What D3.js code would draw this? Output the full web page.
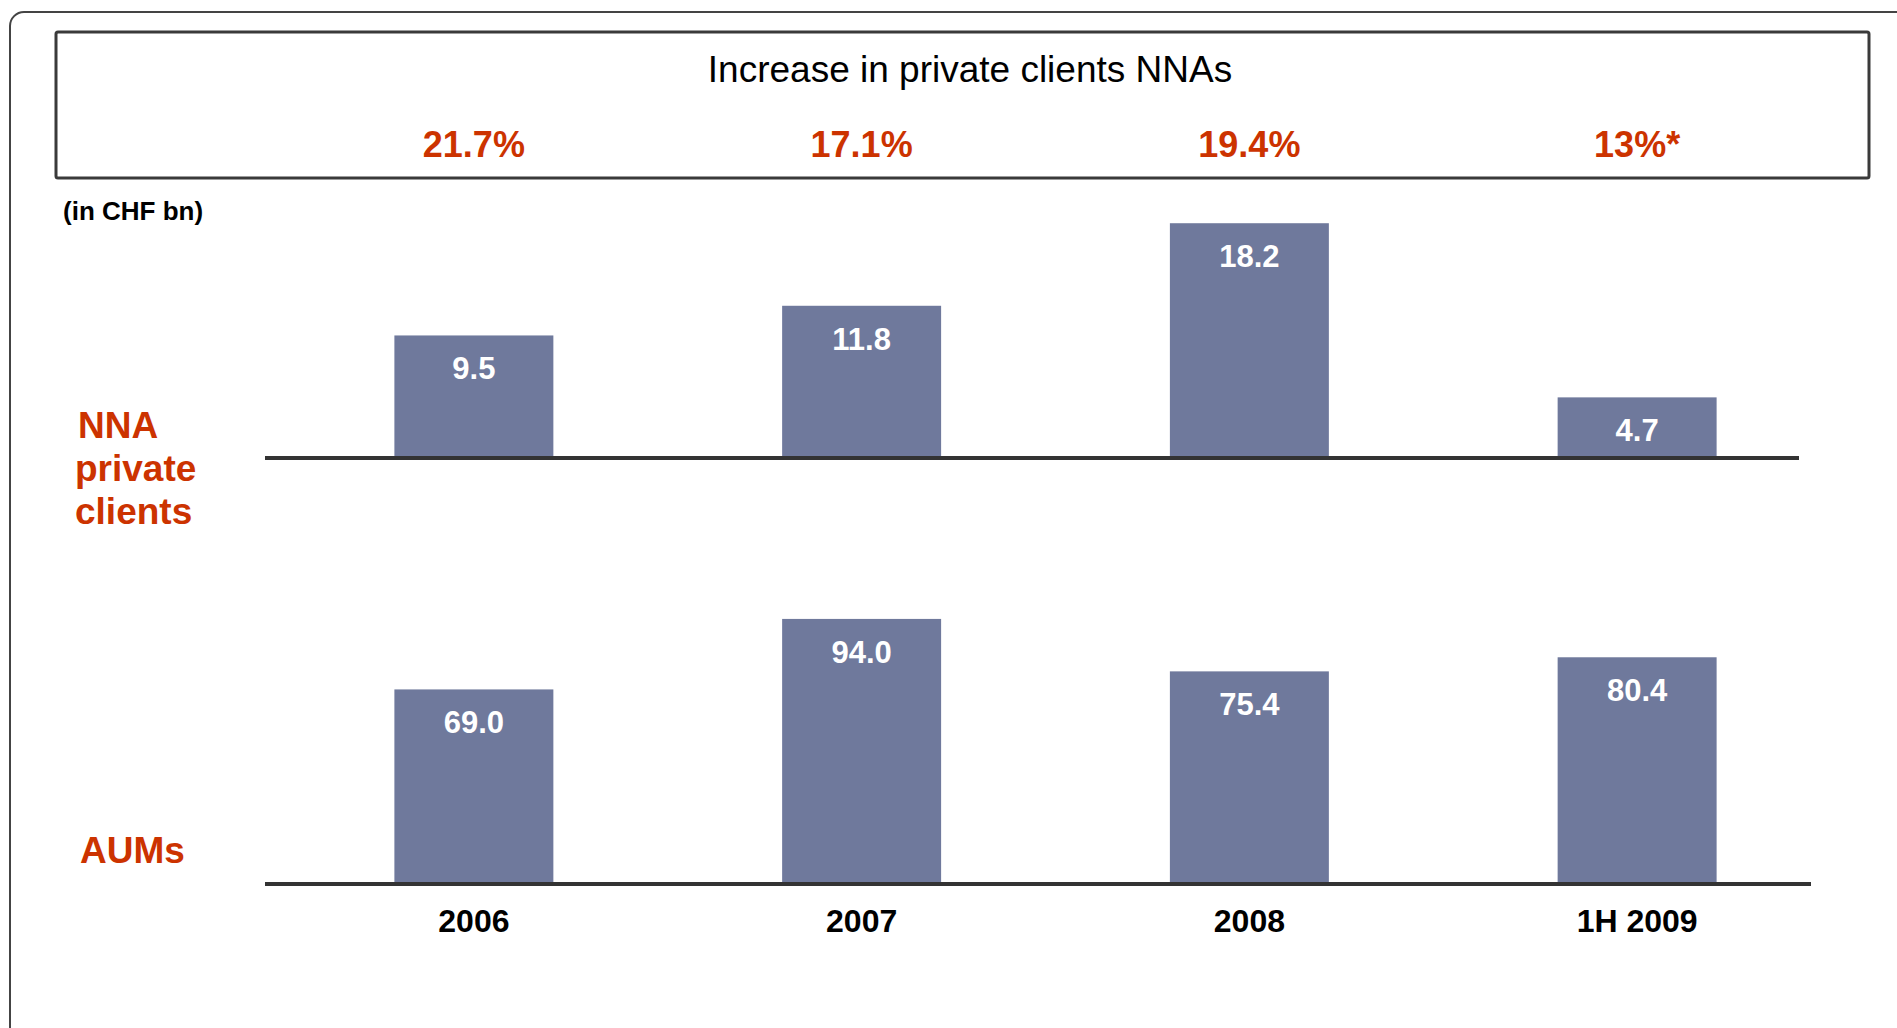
<!DOCTYPE html>
<html>
<head>
<meta charset="utf-8">
<script src="https://cdn.jsdelivr.net/npm/d3@7"></script>
<style>
  body { margin: 0; background: #fff; }
  svg { display: block; font-family: 'Liberation Sans', Arial, sans-serif; }
</style>
</head>
<body>
<div id="chart"></div>
<script>
const categories = ['2006', '2007', '2008', '1H 2009']
const nnaValues = [9.5, 11.8, 18.2, 4.7]
const aumValues = [69.0, 94.0, 75.4, 80.4]
const growthLabels = ['21.7%', '17.1%', '19.4%', '13%*']

const width = 1897
const height = 1028
const red = '#cc3300'
const barColor = '#6f799c'
const lineColor = '#333'

const svg = d3.select('#chart')
  .append('svg')
  .attr('width', width)
  .attr('height', height)

// outer frame, runs off the right and bottom of the page
svg.append('rect')
  .attr('x', 10).attr('y', 12)
  .attr('width', width + 40).attr('height', height + 40)
  .attr('rx', 14)
  .attr('fill', 'none')
  .attr('stroke', '#444')
  .attr('stroke-width', 2)

// header box
svg.append('rect')
  .attr('x', 56).attr('y', 32)
  .attr('width', 1813).attr('height', 146)
  .attr('rx', 2)
  .attr('fill', 'none')
  .attr('stroke', '#3a3a3a')
  .attr('stroke-width', 3)

svg.append('text')
  .attr('x', 970).attr('y', 82)
  .attr('text-anchor', 'middle')
  .attr('font-size', 37)
  .attr('fill', '#000')
  .text('Increase in private clients NNAs')

const x = d3.scaleBand()
  .domain(categories)
  .range([280, 1831])
  .paddingInner(0.59)
  .paddingOuter(0.295)

const cx = d => x(d) + x.bandwidth() / 2

svg.append('g')
  .selectAll('text')
  .data(growthLabels)
  .join('text')
  .attr('x', (d, i) => cx(categories[i]))
  .attr('y', 157)
  .attr('text-anchor', 'middle')
  .attr('font-size', 36)
  .attr('font-weight', 'bold')
  .attr('fill', red)
  .text(d => d)

svg.append('text')
  .attr('x', 63).attr('y', 220)
  .attr('font-size', 26)
  .attr('font-weight', 'bold')
  .text('(in CHF bn)')

const fmt = d3.format('.1f')

const drawPanel = (values, y, lineEnd) => {
  const g = svg.append('g')
  g.selectAll('rect')
    .data(values)
    .join('rect')
    .attr('x', (d, i) => x(categories[i]))
    .attr('y', d => y(d))
    .attr('width', x.bandwidth())
    .attr('height', d => y(0) - y(d))
    .attr('fill', barColor)
  g.selectAll('text')
    .data(values)
    .join('text')
    .attr('x', (d, i) => cx(categories[i]))
    .attr('y', d => y(d) + 44)
    .attr('text-anchor', 'middle')
    .attr('font-size', 31)
    .attr('font-weight', 'bold')
    .attr('fill', '#fff')
    .text(d => fmt(d))
  g.append('line')
    .attr('x1', 265).attr('x2', lineEnd)
    .attr('y1', y(0)).attr('y2', y(0))
    .attr('stroke', lineColor)
    .attr('stroke-width', 4)
  return g
}

const yTop = d3.scaleLinear().domain([0, 20]).range([458, 200])
const yBottom = d3.scaleLinear().domain([0, 100]).range([884, 602])

drawPanel(nnaValues, yTop, 1799)
const bottom = drawPanel(aumValues, yBottom, 1811)

bottom.selectAll('.cat')
  .data(categories)
  .join('text')
  .attr('class', 'cat')
  .attr('x', d => cx(d))
  .attr('y', 932)
  .attr('text-anchor', 'middle')
  .attr('font-size', 32)
  .attr('font-weight', 'bold')
  .attr('fill', '#000')
  .text(d => d)

// row labels
svg.append('text')
  .attr('font-size', 37)
  .attr('font-weight', 'bold')
  .attr('fill', red)
  .selectAll('tspan')
  .data(['NNA', 'private', 'clients'])
  .join('tspan')
  .attr('x', (d, i) => i === 0 ? 78 : 75)
  .attr('y', (d, i) => 438 + i * 43)
  .text(d => d)

svg.append('text')
  .attr('x', 80).attr('y', 863)
  .attr('font-size', 37)
  .attr('font-weight', 'bold')
  .attr('fill', red)
  .text('AUMs')
</script>
</body>
</html>
